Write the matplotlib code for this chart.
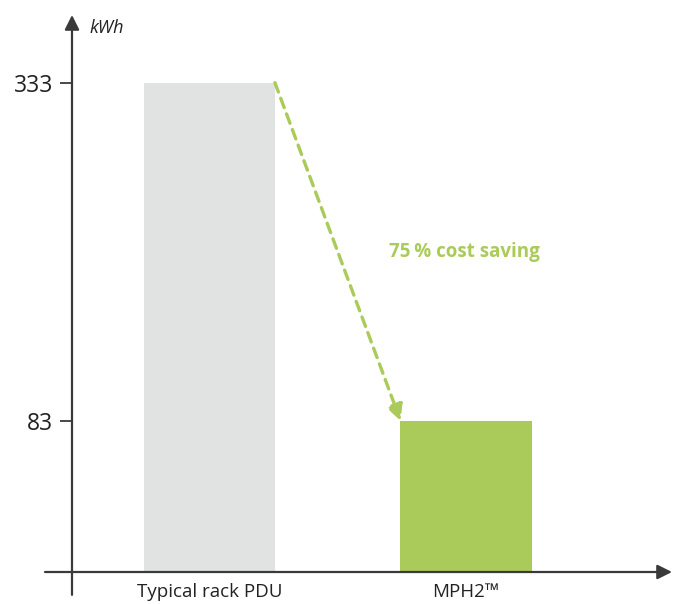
import numpy as np
import matplotlib.pyplot as plt

# data
categories = ['Typical rack PDU', 'MPH2\u2122']
energy_kwh = [333, 83]
bar_colors = ['#e1e3e2', '#aacb5a']
saving_label = '75\u2009% cost saving'

plt.rcParams['font.family'] = ['Open Sans', 'DejaVu Sans']

fig = plt.figure(figsize=(6.74, 6.04), dpi=100)
# axes box in figure pixels: x 72..672, y 15..572 (from top)
ax = fig.add_axes([72 / 674, 32 / 604, 600 / 674, 557 / 604])

x = np.arange(len(categories))
y_bottom = -28.7
ax.bar(x, np.array(energy_kwh) - y_bottom, bottom=y_bottom, width=0.511,
       color=bar_colors, zorder=1)

ax.set_xlim(-0.536, 1.803)
ax.set_ylim(y_bottom, 383)

for s in ax.spines.values():
    s.set_visible(False)

# axis lines with arrows
axis_col = '#3a3a3a'
ax.annotate('', xy=(0, 1.0), xytext=(0, -0.041), xycoords='axes fraction',
            arrowprops=dict(arrowstyle='-|>', color=axis_col, lw=1.6,
                            mutation_scale=22, shrinkA=0, shrinkB=0),
            annotation_clip=False)
ax.annotate('', xy=(1.0, 0), xytext=(-0.045, 0), xycoords='axes fraction',
            arrowprops=dict(arrowstyle='-|>', color=axis_col, lw=1.6,
                            mutation_scale=22, shrinkA=0, shrinkB=0),
            annotation_clip=False)

ax.set_yticks(energy_kwh)
ax.set_yticklabels([str(v) for v in energy_kwh], fontsize=16.5, color='#222222')
ax.tick_params(axis='y', length=8.6, width=1.3, color=axis_col, pad=5)
ax.set_xticks(x)
ax.set_xticklabels(categories, fontsize=13.5, color='#222222')
ax.tick_params(axis='x', length=0, pad=8)

ax.text(0.03, 0.977, 'kWh', transform=ax.transAxes, fontsize=13,
        style='italic', va='center', ha='left', color='#222222')

# dashed saving arrow from top of first bar to top of second bar
ax.annotate('', xy=(x[1] - 0.255, energy_kwh[1]),
            xytext=(x[0] + 0.255, energy_kwh[0]),
            arrowprops=dict(arrowstyle='-|>', color='#aacb5a', lw=2.4,
                            linestyle=(0, (3, 2)), mutation_scale=24,
                            shrinkA=0, shrinkB=0))
ax.text(0.70, 208, saving_label, fontsize=13.5, fontweight='bold',
        color='#aacb5a', ha='left', va='center')

fig.savefig('out.png', dpi=100)
